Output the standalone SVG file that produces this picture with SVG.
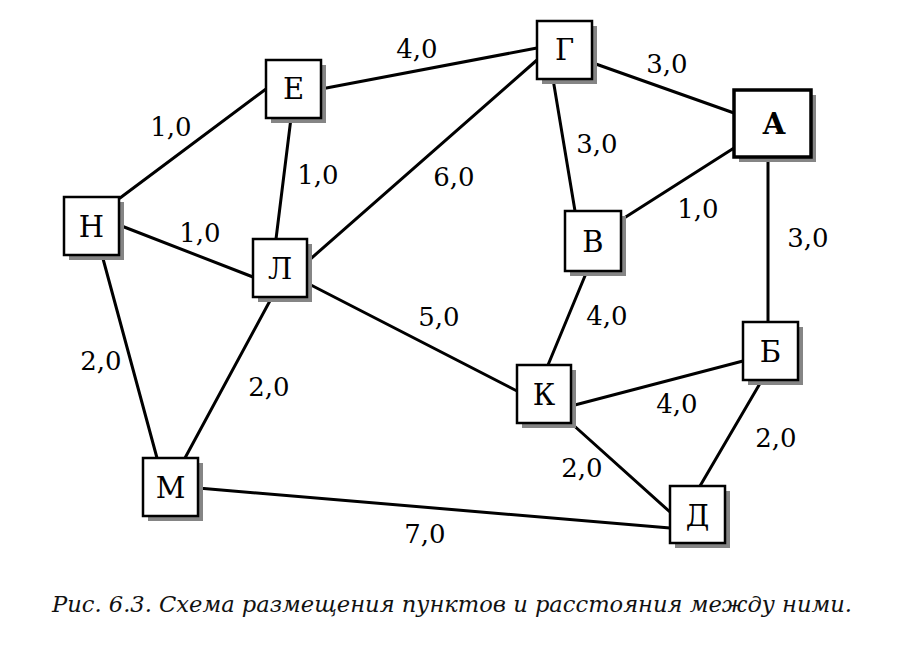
<svg xmlns="http://www.w3.org/2000/svg" width="920" height="656" viewBox="0 0 920 656">
<style>
.e{stroke:#000;stroke-width:3;stroke-linecap:round;fill:none}
.sh{fill:#858585}
.bx{fill:#fff;stroke:#000;stroke-width:2.5}
.bxa{fill:#fff;stroke:#000;stroke-width:3.5}
.nl{font-family:"DejaVu Serif",serif;font-size:29px;text-anchor:middle;fill:#000}
.el{font-family:"DejaVu Serif",serif;font-size:26px;text-anchor:middle;fill:#000}
.cap{font-family:"DejaVu Serif",serif;font-style:italic;font-size:22px;fill:#111}
</style>
<rect width="920" height="656" fill="#fff"/>
<g id="connectors">
<line class="e" x1="120" y1="198" x2="266" y2="89"/>
<line class="e" x1="321" y1="89" x2="537" y2="48"/>
<line class="e" x1="291" y1="118" x2="276" y2="239"/>
<line class="e" x1="119" y1="225" x2="253" y2="277"/>
<line class="e" x1="307" y1="262" x2="537" y2="60"/>
<line class="e" x1="593" y1="63" x2="734" y2="113"/>
<line class="e" x1="553" y1="79" x2="575" y2="211"/>
<line class="e" x1="621" y1="220" x2="734" y2="148"/>
<line class="e" x1="768" y1="157" x2="768" y2="322"/>
<line class="e" x1="587" y1="271" x2="548" y2="365"/>
<line class="e" x1="307" y1="283" x2="517" y2="391"/>
<line class="e" x1="571" y1="406" x2="743" y2="361"/>
<line class="e" x1="571" y1="423" x2="670" y2="512"/>
<line class="e" x1="762" y1="380" x2="700" y2="486"/>
<line class="e" x1="102" y1="255" x2="157" y2="458"/>
<line class="e" x1="272" y1="297" x2="185" y2="458"/>
<line class="e" x1="198" y1="488" x2="670" y2="528"/>
<text class="el" x="417" y="58">4,0</text>
<text class="el" x="667" y="73">3,0</text>
<text class="el" x="597" y="153">3,0</text>
<text class="el" x="698" y="218">1,0</text>
<text class="el" x="808" y="247">3,0</text>
<text class="el" x="171" y="136">1,0</text>
<text class="el" x="318" y="184">1,0</text>
<text class="el" x="200" y="242">1,0</text>
<text class="el" x="454" y="186">6,0</text>
<text class="el" x="101" y="370">2,0</text>
<text class="el" x="269" y="396">2,0</text>
<text class="el" x="439" y="326">5,0</text>
<text class="el" x="607" y="325">4,0</text>
<text class="el" x="677" y="413">4,0</text>
<text class="el" x="776" y="447">2,0</text>
<text class="el" x="582" y="477">2,0</text>
<text class="el" x="425" y="543">7,0</text>
</g>
<g id="node-E"><rect class="sh" x="271" y="65" width="55" height="58"/><rect class="bx" x="266" y="60" width="55" height="58"/><text class="nl" x="293.5" y="99">Е</text></g>
<g id="node-G"><rect class="sh" x="542" y="26" width="55" height="58"/><rect class="bx" x="537" y="21" width="55" height="58"/><text class="nl" x="564.5" y="60">Г</text></g>
<g id="node-A"><rect class="sh" x="739" y="95" width="77" height="67"/><rect class="bxa" x="734" y="90" width="77" height="67"/><text class="nl" x="774" y="134" font-weight="bold">А</text></g>
<g id="node-N"><rect class="sh" x="69" y="202" width="55" height="58"/><rect class="bx" x="64" y="197" width="55" height="58"/><text class="nl" x="91.5" y="237">Н</text></g>
<g id="node-L"><rect class="sh" x="258" y="244" width="54" height="58"/><rect class="bx" x="253" y="239" width="54" height="58"/><text class="nl" x="280" y="279">Л</text></g>
<g id="node-V"><rect class="sh" x="570" y="216" width="56" height="60"/><rect class="bx" x="565" y="211" width="56" height="60"/><text class="nl" x="593" y="252">В</text></g>
<g id="node-B"><rect class="sh" x="748" y="327" width="55" height="58"/><rect class="bx" x="743" y="322" width="55" height="58"/><text class="nl" x="770.5" y="362">Б</text></g>
<g id="node-K"><rect class="sh" x="522" y="370" width="54" height="58"/><rect class="bx" x="517" y="365" width="54" height="58"/><text class="nl" x="544" y="405">К</text></g>
<g id="node-D"><rect class="sh" x="675" y="491" width="55" height="57"/><rect class="bx" x="670" y="486" width="55" height="57"/><text class="nl" x="697.5" y="526">Д</text></g>
<g id="node-M"><rect class="sh" x="148" y="463" width="55" height="58"/><rect class="bx" x="143" y="458" width="55" height="58"/><text class="nl" x="170.5" y="498">М</text></g>
<text class="cap" x="52" y="612" textLength="800" lengthAdjust="spacingAndGlyphs">Рис. 6.3. Схема размещения пунктов и расстояния между ними.</text>
</svg>
